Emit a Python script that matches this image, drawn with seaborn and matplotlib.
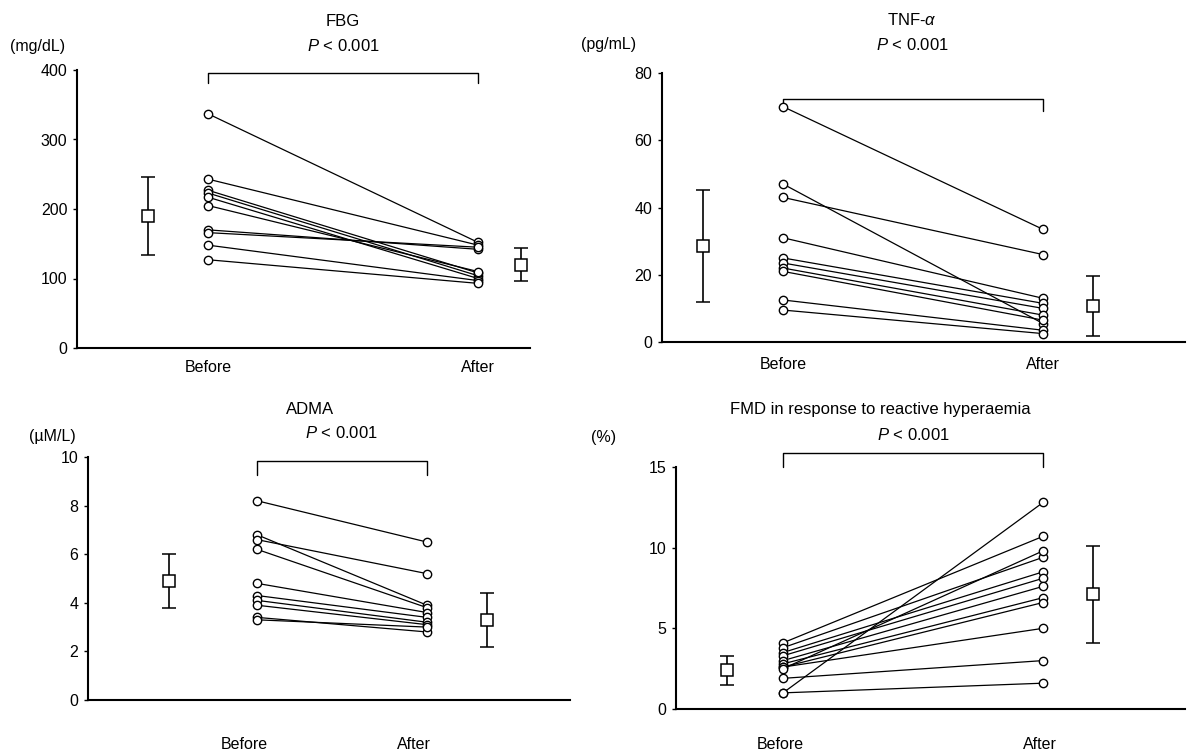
import numpy as np
import pandas as pd
import matplotlib
matplotlib.use("Agg")
import matplotlib.pyplot as plt
import seaborn as sns

# ---------------- data ----------------
conditions = ["Before", "After"]

fbg_before = [337, 243, 227, 223, 217, 205, 170, 166, 148, 127]
fbg_after = [152, 148, 108, 104, 100, 110, 142, 145, 97, 93]
fbg_mean = [190, 120]
fbg_sd = [56, 24]

tnf_before = [70, 47, 43, 31, 25, 23.5, 22, 21, 12.5, 9.5]
tnf_after = [33.5, 5.5, 26, 13, 11.5, 10, 8, 6.5, 3.5, 2.5]
tnf_mean = [28.6, 10.7]
tnf_sd = [16.7, 8.8]

adma_before = [8.2, 6.8, 6.6, 6.2, 4.8, 4.3, 4.1, 3.9, 3.4, 3.3]
adma_after = [6.5, 3.9, 5.2, 3.8, 3.6, 3.4, 3.2, 3.1, 2.8, 3.0]
adma_mean = [4.9, 3.3]
adma_sd = [1.1, 1.1]

fmd_before = [4.1, 3.8, 3.5, 3.3, 3.0, 2.8, 2.6, 2.6, 2.5, 1.9, 1.0, 1.0]
fmd_after = [10.7, 9.4, 8.5, 8.1, 7.6, 6.9, 6.6, 5.0, 9.8, 3.0, 1.6, 12.8]
fmd_mean = [2.4, 7.1]
fmd_sd = [0.9, 3.0]

titles = ["FBG", "TNF-$\\alpha$", "ADMA", "FMD in response to reactive hyperaemia"]
units = ["(mg/dL)", "(pg/mL)", "(\u00b5M/L)", "(%)"]
p_text = "$P$ < 0.001"
yticks_list = [[0, 100, 200, 300, 400], [0, 20, 40, 60, 80],
               [0, 2, 4, 6, 8, 10], [0, 5, 10, 15]]

# ---------------- style ----------------
sns.set_theme(style="ticks")
plt.rcParams["font.family"] = ["Liberation Sans", "DejaVu Sans"]
plt.rcParams["mathtext.fontset"] = "custom"
plt.rcParams["mathtext.rm"] = "Liberation Sans"
plt.rcParams["mathtext.it"] = "Liberation Sans:italic"
plt.rcParams["text.color"] = "black"
plt.rcParams["axes.labelcolor"] = "black"
plt.rcParams["xtick.color"] = "black"
plt.rcParams["ytick.color"] = "black"

W, H = 1190, 753
fig = plt.figure(figsize=(W / 100, H / 100), dpi=100)
fig.patch.set_facecolor("white")

layouts = [
    dict(l=77, r=530, t=70, b=348, xb=208, xa=478, mb=148, ma=521, ymax=400,
         bracket_y=73, drop=10, title_xy=(343, 22), p_xy=(343, 46),
         unit_xy=(38, 46), lab_y=368, lab_shift=0),
    dict(l=662, r=1185, t=73, b=342, xb=783, xa=1043, mb=703, ma=1093, ymax=80,
         bracket_y=99, drop=12, title_xy=(912, 20), p_xy=(912, 45),
         unit_xy=(609, 45), lab_y=365, lab_shift=0),
    dict(l=88, r=570, t=457, b=700, xb=257, xa=427, mb=169, ma=487, ymax=10,
         bracket_y=461, drop=14, title_xy=(310, 410), p_xy=(341, 433),
         unit_xy=(52, 436), lab_y=745, lab_shift=-13),
    dict(l=676, r=1185, t=467, b=709, xb=783, xa=1043, mb=727, ma=1093, ymax=15,
         bracket_y=453, drop=14, title_xy=(880, 410), p_xy=(913, 435),
         unit_xy=(604, 437), lab_y=745, lab_shift=-3),
]

panels = [
    (fbg_before, fbg_after, fbg_mean, fbg_sd),
    (tnf_before, tnf_after, tnf_mean, tnf_sd),
    (adma_before, adma_after, adma_mean, adma_sd),
    (fmd_before, fmd_after, fmd_mean, fmd_sd),
]

for i, ((bef, aft, mean, sd), L) in enumerate(zip(panels, layouts)):
    ax = fig.add_axes([L["l"] / W, 1 - L["b"] / H,
                       (L["r"] - L["l"]) / W, (L["b"] - L["t"]) / H])
    span = L["xa"] - L["xb"]
    ax.set_xlim((L["l"] - L["xb"]) / span, (L["r"] - L["xb"]) / span)
    ax.set_ylim(0, L["ymax"])

    n = len(bef)
    df = pd.DataFrame({
        "subject": list(range(n)) * 2,
        "x": [0] * n + [1] * n,
        "value": list(bef) + list(aft),
    })
    sns.lineplot(data=df, x="x", y="value", units="subject", estimator=None,
                 ax=ax, color="black", lw=0.9, marker="o", markersize=6,
                 markerfacecolor="white", markeredgecolor="black",
                 markeredgewidth=1.0, legend=False, clip_on=False, zorder=3)

    mx = [(L["mb"] - L["xb"]) / span, (L["ma"] - L["xb"]) / span]
    ax.errorbar(mx, mean, yerr=sd, fmt="s", mfc="white", mec="black", ms=8,
                mew=1.1, ecolor="black", elinewidth=1.2, capsize=5,
                capthick=1.2, zorder=4, clip_on=False)

    # bracket
    ppu = (L["b"] - L["t"]) / L["ymax"]
    by = (L["b"] - L["bracket_y"]) / ppu
    bd = (L["b"] - L["bracket_y"] - L["drop"]) / ppu
    ax.plot([0, 0, 1, 1], [bd, by, by, bd], color="black", lw=1.0,
            clip_on=False)

    sns.despine(ax=ax)
    for s in ["left", "bottom"]:
        ax.spines[s].set_linewidth(1.5)
        ax.spines[s].set_color("black")
    ax.set_yticks(yticks_list[i])
    ax.tick_params(axis="y", length=3, width=1, labelsize=11.5, pad=4,
                   colors="black")
    shift = L["lab_shift"] / span
    ax.set_xticks([0 + shift, 1 + shift])
    ax.set_xticklabels(conditions)
    ax.tick_params(axis="x", length=0, labelsize=11.5, colors="black",
                   pad=(L["lab_y"] - L["b"] - 8) * 0.72)
    ax.set_xlabel("")
    ax.set_ylabel("")
    ax.set_facecolor("white")
    ax.grid(False)

    fig.text(L["title_xy"][0] / W, 1 - L["title_xy"][1] / H, titles[i],
             ha="center", va="center", fontsize=12, color="black")
    fig.text(L["p_xy"][0] / W, 1 - L["p_xy"][1] / H, p_text,
             ha="center", va="center", fontsize=12, color="black")
    fig.text(L["unit_xy"][0] / W, 1 - L["unit_xy"][1] / H, units[i],
             ha="center", va="center", fontsize=11.5, color="black")

fig.savefig("out.png", dpi=100, facecolor="white")
